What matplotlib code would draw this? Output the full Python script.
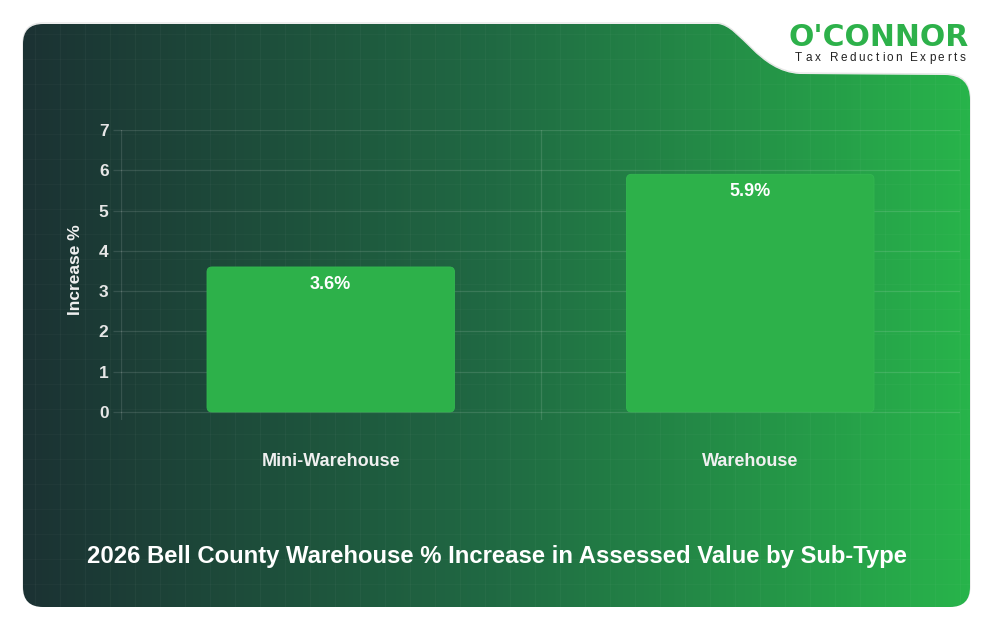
import numpy as np
import matplotlib
matplotlib.use("Agg")
import matplotlib.pyplot as plt
from matplotlib.path import Path
from matplotlib.patches import PathPatch, FancyBboxPatch
from matplotlib.colors import LinearSegmentedColormap
from matplotlib.textpath import TextPath
from matplotlib.font_manager import FontProperties

plt.rcParams['font.family'] = ['Liberation Sans', 'DejaVu Sans']

# ---- data ----
categories = ["Mini-Warehouse", "Warehouse"]
values = [3.6, 5.9]
value_labels = ["3.6%", "5.9%"]
yticks = [0, 1, 2, 3, 4, 5, 6, 7]
title = "2026 Bell County Warehouse % Increase in Assessed Value by Sub-Type"
ylabel = "Increase %"

W, H = 994, 632
fig = plt.figure(figsize=(W / 100, H / 100), dpi=100)
fig.patch.set_facecolor("white")

# ---- background card ----
bg = fig.add_axes([0, 0, 1, 1], zorder=0)
bg.set_xlim(0, W)
bg.set_ylim(H, 0)
bg.axis("off")

L, R, T, B = 23, 970, 24, 607
r = 20
verts = [
    (L + r, T), (718, T),
    (740, T + 2), (758, 72), (800, 74),
    (945, 75),
    (R, 75), (R, 100),
    (R, B - r),
    (R, B), (R - r, B),
    (L + r, B),
    (L, B), (L, B - r),
    (L, T + r),
    (L, T), (L + r, T),
    (L + r, T),
]
codes = [
    Path.MOVETO, Path.LINETO,
    Path.CURVE4, Path.CURVE4, Path.CURVE4,
    Path.LINETO,
    Path.CURVE3, Path.CURVE3,
    Path.LINETO,
    Path.CURVE3, Path.CURVE3,
    Path.LINETO,
    Path.CURVE3, Path.CURVE3,
    Path.LINETO,
    Path.CURVE3, Path.CURVE3,
    Path.CLOSEPOLY,
]
card_path = Path(verts, codes)

shadow = PathPatch(card_path.transformed(matplotlib.transforms.Affine2D().translate(0, -1.0)),
                   facecolor="none", edgecolor="#d0d0d0", lw=1.0, alpha=0.5, zorder=0.5)
bg.add_patch(shadow)

card = PathPatch(card_path, facecolor="none", edgecolor="none", zorder=1)
bg.add_patch(card)
cmap = LinearSegmentedColormap.from_list("g", ["#1b3233", "#206a43", "#28b44b"])
grad = np.linspace(0, 1, 512).reshape(1, -1)
im = bg.imshow(grad, cmap=cmap, extent=[L, R, B, T], aspect="auto", zorder=1, interpolation="bilinear")
im.set_clip_path(card)

for gx in np.arange(L + 12, R, 25):
    ln = bg.plot([gx, gx], [T, B], color="white", alpha=0.03, lw=0.8, zorder=1.2)[0]
    ln.set_clip_path(card)
for gy in np.arange(T + 10, B, 25):
    ln = bg.plot([L, R], [gy, gy], color="white", alpha=0.025, lw=0.8, zorder=1.2)[0]
    ln.set_clip_path(card)

# ---- logo ----
bg.text(879, 37, "O'CONNOR", color="#2db14a", fontsize=21.5, fontweight="heavy",
        family=["DejaVu Sans"], ha="center", va="center", zorder=3)
tag = "Tax Reduction Experts"
fp_tag = FontProperties(family="Liberation Sans", size=8.5)
widths = [TextPath((0, 0), ch if ch != " " else "n", prop=fp_tag).get_extents().width * 100 / 72
          if ch != " " else 3.0 for ch in tag]
x0, x1 = 795, 965
extra = ((x1 - x0) - sum(widths)) / (len(tag) - 1)
cx = x0
for ch, w in zip(tag, widths):
    if ch != " ":
        bg.text(cx, 58, ch, color="#222222", fontproperties=fp_tag, ha="left", va="center", zorder=3)
    cx += w + extra

# ---- main chart ----
px_left, px_right, px_top, px_bottom = 121, 960, 130, 420
ax = fig.add_axes([px_left / W, 1 - px_bottom / H, (px_right - px_left) / W, (px_bottom - px_top) / H],
                  zorder=2)
ax.set_facecolor("none")
y0_px = 412
unit = (y0_px - px_top) / 7
ax.set_ylim(-(px_bottom - y0_px) / unit, 7)
ax.set_xlim(-0.5, 1.5)

x = np.arange(len(categories))
bars = ax.bar(x, values, width=0.59, color="#2db14a")

xpp = 2.0 / (px_right - px_left)
ypp = (7 - ax.get_ylim()[0]) / (px_bottom - px_top)
for b in bars:
    bx, by, bw, bh = b.get_x(), b.get_y(), b.get_width(), b.get_height()
    b.set_visible(False)
    fp = FancyBboxPatch((bx, by), bw, bh, boxstyle="round,pad=0,rounding_size=%f" % (5 * xpp),
                        mutation_aspect=ypp / xpp, facecolor="#2db14a", edgecolor="#33b850",
                        lw=0.6, zorder=3)
    ax.add_patch(fp)

for xi, v, lab in zip(x, values, value_labels):
    ax.annotate(lab, (xi, v), xytext=(0, -12.5), textcoords="offset points",
                ha="center", va="center", color="white", fontsize=13, fontweight="bold", zorder=4)

ax.set_yticks(yticks)
ax.set_yticklabels([str(t) for t in yticks])
ax.set_xticks(x)
ax.set_xticklabels(categories)
ax.set_xticks([-0.5, 0.5, 1.5], minor=True)
ax.grid(False)
ax.yaxis.grid(True, color="white", alpha=0.12, lw=0.9)
ax.xaxis.grid(True, which="minor", color="white", alpha=0.12, lw=0.9)
for s in ax.spines.values():
    s.set_visible(False)
ax.tick_params(axis="y", length=6, color=(1, 1, 1, 0.12), width=0.9, pad=3,
               labelcolor="#e6e6e6", labelsize=12.5)
ax.tick_params(axis="x", which="both", length=0, pad=24, labelcolor="#f0f0f0", labelsize=13)
for t in ax.get_yticklabels() + ax.get_xticklabels():
    t.set_fontweight("bold")
ax.set_axisbelow(True)

ax.set_ylabel(ylabel, color="#f0f0f0", fontsize=12.5, fontweight="bold")
ax.yaxis.label.set_va("center")
ax.yaxis.set_label_coords((76 - px_left) / (px_right - px_left), (px_bottom - 270) / (px_bottom - px_top))

fig.text(497 / W, 1 - 556 / H, title, color="white", fontsize=17.2, fontweight="bold",
         ha="center", va="center", zorder=5)

fig.savefig("out.png", dpi=100, facecolor="white")
